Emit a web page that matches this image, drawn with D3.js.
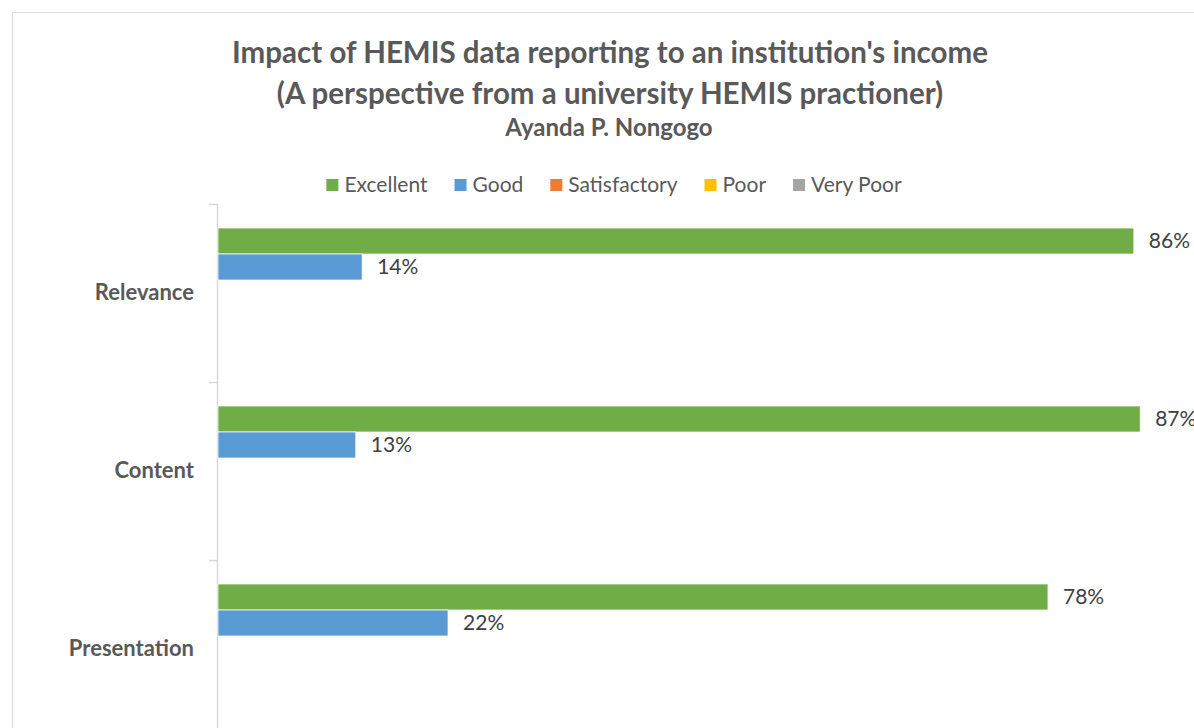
<!DOCTYPE html>
<html>
<head>
<meta charset="utf-8">
<script src="https://cdn.jsdelivr.net/npm/d3@7"></script>
<style>
  body { margin: 0; background: #fff; overflow: hidden; }
  text { font-family: Lato, "Open Sans", sans-serif; }
</style>
</head>
<body>
<div id="chart"></div>
<script>
// Survey results, one value per category
const categories = ["Relevance", "Content", "Presentation"];
const seriesNames = ["Excellent", "Good", "Satisfactory", "Poor", "Very Poor"];
const excellent = [0.864, 0.87, 0.783];
const good = [0.136, 0.13, 0.217];
const satisfactory = [0, 0, 0];
const poor = [0, 0, 0];
const veryPoor = [0, 0, 0];
const seriesColours = ["#70AD47", "#5B9BD5", "#ED7D31", "#FFC000", "#A5A5A5"];

const titleLines = ["Impact of HEMIS data reporting to an institution's income",
                    "(A perspective from a university HEMIS practioner)"];
const subtitle = "Ayanda P. Nongogo";

const width = 1194, height = 728;
const seriesValues = [excellent, good, satisfactory, poor, veryPoor];

const svg = d3.select("#chart").append("svg")
    .attr("width", width)
    .attr("height", height);

// chart area border (the picture is cropped on the right and bottom)
svg.append("rect")
    .attr("x", 12.5).attr("y", 12.5)
    .attr("width", 1400).attr("height", 1000)
    .attr("fill", "#fff")
    .attr("stroke", "#d9d9d9");

// titles
svg.selectAll(".title")
    .data(titleLines)
    .enter().append("text")
    .attr("class", "title")
    .attr("x", 610)
    .attr("y", (d, i) => 63 + i * 41)
    .attr("text-anchor", "middle")
    .attr("font-size", 29.5)
    .attr("font-weight", "bold")
    .attr("fill", "#595959")
    .text(d => d);

svg.append("text")
    .attr("x", 609).attr("y", 136)
    .attr("text-anchor", "middle")
    .attr("font-size", 24)
    .attr("font-weight", "bold")
    .attr("fill", "#595959")
    .text(subtitle);

// scales
const x = d3.scaleLinear().domain([0, 1]).range([218, 1278]);
const y = d3.scaleBand().domain(categories).range([204, 738]);
const inner = d3.scaleBand().domain(seriesNames).range([24, 154]);

// category labels
const axis = svg.append("g")
    .attr("transform", "translate(217,0)")
    .call(d3.axisLeft(y).tickSize(0).tickPadding(23));
axis.select(".domain").remove();
axis.selectAll("text")
    .attr("font-size", 22)
    .attr("font-weight", "bold")
    .attr("fill", "#595959")
    .style("font-family", "Lato, 'Open Sans', sans-serif");

// axis line and ticks at category boundaries
const boundaries = categories.map(c => y(c)).concat([y.range()[1]]);
svg.append("line")
    .attr("x1", 217.5).attr("x2", 217.5)
    .attr("y1", y.range()[0]).attr("y2", y.range()[1])
    .attr("stroke", "#d9d9d9").attr("stroke-width", 1.5);
svg.selectAll(".tick-line")
    .data(boundaries)
    .enter().append("line")
    .attr("x1", 209).attr("x2", 217)
    .attr("y1", d => d + 0.5).attr("y2", d => d + 0.5)
    .attr("stroke", "#d9d9d9").attr("stroke-width", 1.5);

// bars
const rows = [];
seriesNames.forEach((s, si) => {
    categories.forEach((c, ci) => {
        rows.push({ series: s, category: c, value: seriesValues[si][ci], colour: seriesColours[si] });
    });
});

svg.selectAll(".bar")
    .data(rows)
    .enter().append("rect")
    .attr("class", "bar")
    .attr("x", x(0))
    .attr("y", d => y(d.category) + inner(d.series))
    .attr("width", d => x(d.value) - x(0))
    .attr("height", inner.bandwidth())
    .attr("fill", d => d.colour)
    .attr("stroke", "#fff")
    .attr("stroke-width", 0.75);

const fmt = d3.format(".0%");
svg.selectAll(".label")
    .data(rows.filter(d => d.value > 0))
    .enter().append("text")
    .attr("class", "label")
    .attr("x", d => x(d.value) + 15)
    .attr("y", d => y(d.category) + inner(d.series) + inner.bandwidth() / 2)
    .attr("dy", "0.35em")
    .attr("font-size", 21)
    .attr("fill", "#404040")
    .text(d => fmt(d.value));

// legend
const legend = svg.append("g");
const items = legend.selectAll("g")
    .data(seriesNames)
    .enter().append("g");
items.append("rect")
    .attr("width", 12).attr("height", 12)
    .attr("y", -6)
    .attr("fill", (d, i) => seriesColours[i]);
items.append("text")
    .attr("x", 18)
    .attr("dy", "0.35em")
    .attr("font-size", 21)
    .attr("fill", "#595959")
    .text(d => d);

let cursor = 0;
items.each(function () {
    const w = 18 + d3.select(this).select("text").node().getComputedTextLength();
    d3.select(this).attr("transform", `translate(${cursor},0)`);
    cursor += w + 27;
});
cursor -= 27;
legend.attr("transform", `translate(${614 - cursor / 2},185)`);
</script>
</body>
</html>
